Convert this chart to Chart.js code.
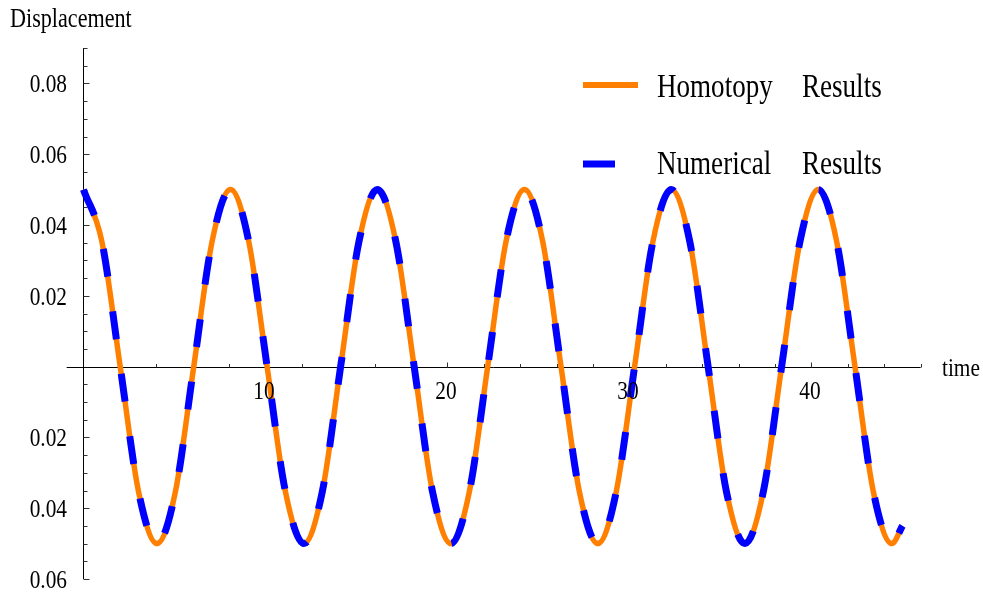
<!DOCTYPE html>
<html>
<head>
<meta charset="utf-8">
<script src="https://cdn.jsdelivr.net/npm/chart.js@4.4.0/dist/chart.umd.min.js"></script>
<style>
  html, body { margin: 0; padding: 0; background: #fff; }
</style>
</head>
<body>
<canvas id="chart" width="983" height="592"></canvas>
<script>
// values (peaks, zero crossings and the points half way between)
const times = [0, 1.01, 2.02, 3.03, 4.04, 5.05, 6.06, 7.07, 8.08, 9.08,
  10.09, 11.10, 12.11, 13.12, 14.13, 15.14, 16.15, 17.16, 18.17, 19.18,
  20.19, 21.20, 22.21, 23.22, 24.23, 25.23, 26.24, 27.25, 28.26, 29.27,
  30.28, 31.29, 32.30, 33.31, 34.32, 35.33, 36.34, 37.35, 38.36, 39.37,
  40.38, 41.38, 42.39, 43.40, 44.41, 45.0];

const homotopy = [0.05, 0.0354, 0, -0.0354, -0.05, -0.0354, 0, 0.0354,
  0.05, 0.0354, 0, -0.0354, -0.05, -0.0354, 0, 0.0354,
  0.05, 0.0354, 0, -0.0354, -0.05, -0.0354, 0, 0.0354,
  0.05, 0.0354, 0, -0.0354, -0.05, -0.0354, 0, 0.0354,
  0.05, 0.0354, 0, -0.0354, -0.05, -0.0354, 0, 0.0354,
  0.05, 0.0354, 0, -0.0354, -0.05, -0.045];

const numerical = [0.05, 0.0354, 0, -0.0354, -0.05, -0.0354, 0, 0.0354,
  0.05, 0.0354, 0, -0.0354, -0.05, -0.0354, 0, 0.0354,
  0.05, 0.0354, 0, -0.0354, -0.05, -0.0354, 0, 0.0354,
  0.05, 0.0354, 0, -0.0354, -0.05, -0.0354, 0, 0.0354,
  0.05, 0.0354, 0, -0.0354, -0.05, -0.0354, 0, 0.0354,
  0.05, 0.0354, 0, -0.0354, -0.05, -0.045];

const xTickValues = [10, 20, 30, 40];
const xTickLabels = ['10', '20', '30', '40'];
const yTickValues = [-0.06, -0.04, -0.02, 0.02, 0.04, 0.06, 0.08];
const yTickLabels = ['0.06', '0.04', '0.02', '0.02', '0.04', '0.06', '0.08'];
const seriesNames = [['Homotopy', 'Results'], ['Numerical', 'Results']];

const orange = '#ff8000';
const blue = '#0000ff';
const FONT = '"Liberation Serif", "Times New Roman", serif';

function toPoints(xs, ys) {
  var pts = [];
  for (var i = 0; i < xs.length; i++) pts.push({x: xs[i], y: ys[i]});
  return pts;
}

// text looks squeezed sideways in the original, so scale it a bit
function squeezedText(ctx, str, x, y, size, align) {
  ctx.save();
  ctx.font = size + 'px ' + FONT;
  ctx.textAlign = align;
  ctx.textBaseline = 'alphabetic';
  ctx.fillStyle = '#000';
  ctx.translate(x, y);
  ctx.scale(0.82, 1);
  ctx.fillText(str, 0, 0);
  ctx.restore();
}

const axesPlugin = {
  id: 'axesAtZero',
  beforeDatasetsDraw(chart) {
    const ctx = chart.ctx;
    const xs = chart.scales.x, ys = chart.scales.y;
    const x0 = Math.round(xs.getPixelForValue(0)) + 0.5;
    const y0 = Math.round(ys.getPixelForValue(0)) + 0.5;
    ctx.save();
    ctx.strokeStyle = '#000';
    ctx.lineWidth = 1;
    ctx.beginPath();
    ctx.moveTo(xs.left, y0); ctx.lineTo(xs.right, y0);
    ctx.moveTo(x0, ys.top); ctx.lineTo(x0, ys.bottom);
    ctx.stroke();

    ctx.strokeStyle = '#333';
    ctx.beginPath();
    // y ticks every 0.005, longer at 0.02 steps
    for (var k = -12; k <= 18; k++) {
      var py = Math.round(ys.getPixelForValue(k * 0.005)) + 0.5;
      var len = (k % 4 === 0) ? 6 : 4;
      if (k === 0) continue;
      ctx.moveTo(x0, py); ctx.lineTo(x0 + len, py);
    }
    // x ticks every 2, longer at 10s
    for (var t = 2; t <= 46; t += 2) {
      var px = Math.round(xs.getPixelForValue(t)) + 0.5;
      var l = (t % 10 === 0) ? 5 : 3.5;
      ctx.moveTo(px, y0); ctx.lineTo(px, y0 - l);
    }
    ctx.stroke();
    ctx.restore();
  },
  afterDraw(chart) {
    const ctx = chart.ctx;
    const xs = chart.scales.x, ys = chart.scales.y;
    const x0 = xs.getPixelForValue(0);
    const y0 = ys.getPixelForValue(0);

    yTickValues.forEach(function (v, i) {
      squeezedText(ctx, yTickLabels[i], x0 - 16.5, ys.getPixelForValue(v) + 9, 26, 'right');
    });
    xTickValues.forEach(function (v, i) {
      squeezedText(ctx, xTickLabels[i], xs.getPixelForValue(v) - 1.5, y0 + 32, 26, 'center');
    });
    squeezedText(ctx, 'time', 942, y0 + 9, 26, 'left');
    squeezedText(ctx, 'Displacement', 10, 27, 27, 'left');

    // legend
    ctx.save();
    ctx.lineCap = 'butt';
    ctx.strokeStyle = orange;
    ctx.lineWidth = 6;
    ctx.beginPath(); ctx.moveTo(583, 85); ctx.lineTo(638, 85); ctx.stroke();
    ctx.strokeStyle = blue;
    ctx.lineWidth = 7;
    ctx.beginPath(); ctx.moveTo(583, 164); ctx.lineTo(615, 164); ctx.stroke();
    ctx.restore();
    squeezedText(ctx, seriesNames[0][0], 657, 97, 33, 'left');
    squeezedText(ctx, seriesNames[0][1], 802, 97, 33, 'left');
    squeezedText(ctx, seriesNames[1][0], 657, 174, 33, 'left');
    squeezedText(ctx, seriesNames[1][1], 802, 174, 33, 'left');
  }
};

new Chart(document.getElementById('chart'), {
  type: 'line',
  data: {
    datasets: [{
      label: 'Homotopy Results',
      data: toPoints(times, homotopy),
      borderColor: orange,
      borderWidth: 5.5,
      pointRadius: 0,
      tension: 0.4,
      cubicInterpolationMode: 'monotone',
      order: 2,
      clip: false
    }, {
      label: 'Numerical Results',
      data: toPoints(times, numerical),
      borderColor: blue,
      borderWidth: 7,
      borderDash: [28, 35],
      borderCapStyle: 'butt',
      pointRadius: 0,
      tension: 0.4,
      cubicInterpolationMode: 'monotone',
      order: 1,
      clip: false
    }]
  },
  options: {
    responsive: false,
    animation: false,
    layout: { padding: { left: 66.7, right: 62.3, top: 48, bottom: 13 } },
    plugins: { legend: { display: false }, tooltip: { enabled: false } },
    scales: {
      x: { type: 'linear', min: -0.92, max: 46, display: false },
      y: { type: 'linear', min: -0.06, max: 0.09, display: false }
    }
  },
  plugins: [axesPlugin]
});
</script>
</body>
</html>
